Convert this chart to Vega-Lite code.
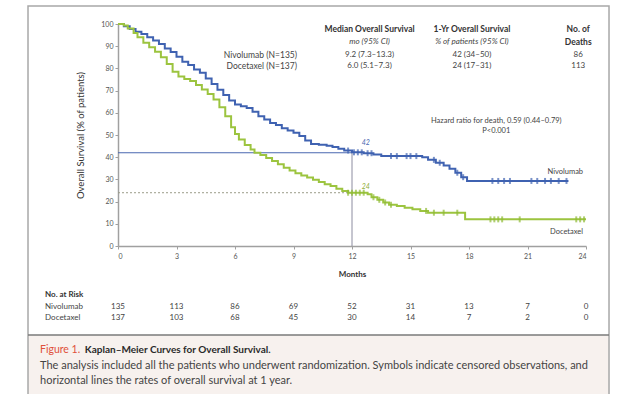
{
  "$schema": "https://vega.github.io/schema/vega-lite/v6.json",
  "width": 468,
  "height": 222,
  "autosize": {"type": "none"},
  "padding": {"left": 118, "top": 24, "right": 35, "bottom": 148},
  "background": "#ffffff",
  "config": {"view": {"stroke": null}, "font": "Lato", "axis": {"labelOverlap": false}},
  "data": {"values": [{"k": 1}]},
  "datasets": {
    "nivo": [
      {"t":0,"s":100},{"t":0.3,"s":99},{"t":0.6,"s":97.8},{"t":0.9,"s":96.5},{"t":1.2,"s":95.5},{"t":1.5,"s":94},{"t":1.8,"s":92.6},{"t":2.1,"s":91},{"t":2.4,"s":89},{"t":2.7,"s":87.4},{"t":3.0,"s":85.2},{"t":3.3,"s":83},{"t":3.6,"s":81.5},{"t":3.9,"s":79.5},{"t":4.2,"s":78},{"t":4.5,"s":75.5},{"t":4.8,"s":73},{"t":5.1,"s":70.4},{"t":5.4,"s":68},{"t":5.7,"s":65.5},{"t":6.0,"s":63.7},{"t":6.3,"s":63},{"t":6.6,"s":62.2},{"t":6.9,"s":60.5},{"t":7.2,"s":58.5},{"t":7.5,"s":57},{"t":7.8,"s":55.4},{"t":8.1,"s":54.5},{"t":8.4,"s":53},{"t":8.7,"s":52},{"t":9.0,"s":51},{"t":9.3,"s":49.6},{"t":9.6,"s":47.5},{"t":9.9,"s":46},{"t":10.3,"s":45.6},{"t":10.7,"s":45.2},{"t":11.0,"s":44.6},{"t":11.3,"s":43.8},{"t":11.6,"s":43},{"t":12.0,"s":42.2},{"t":12.6,"s":41.8},{"t":13.1,"s":41.2},{"t":13.5,"s":40.5},{"t":15.6,"s":40},{"t":15.9,"s":38.8},{"t":16.3,"s":37.5},{"t":16.7,"s":36.3},{"t":17.0,"s":34.8},{"t":17.3,"s":33},{"t":17.6,"s":31},{"t":17.9,"s":29.3},{"t":23.1,"s":29.3}
    ],
    "doce": [
      {"t":0,"s":100},{"t":0.3,"s":99.3},{"t":0.5,"s":98},{"t":0.8,"s":96},{"t":1.0,"s":94},{"t":1.3,"s":91.5},{"t":1.6,"s":89.5},{"t":1.9,"s":87.5},{"t":2.2,"s":85},{"t":2.5,"s":82},{"t":2.8,"s":78.5},{"t":3.1,"s":76.3},{"t":3.4,"s":75.2},{"t":3.7,"s":74.3},{"t":4.0,"s":72.5},{"t":4.3,"s":70.5},{"t":4.6,"s":68.5},{"t":4.9,"s":66},{"t":5.2,"s":62.5},{"t":5.5,"s":58.5},{"t":5.8,"s":53.5},{"t":6.0,"s":50.4},{"t":6.2,"s":48},{"t":6.5,"s":45.5},{"t":6.8,"s":43.5},{"t":7.0,"s":42},{"t":7.3,"s":41},{"t":7.6,"s":39.6},{"t":7.9,"s":38.3},{"t":8.2,"s":36.8},{"t":8.5,"s":35.3},{"t":8.8,"s":34},{"t":9.1,"s":32.8},{"t":9.4,"s":31.8},{"t":9.7,"s":30.8},{"t":10.0,"s":29.8},{"t":10.3,"s":28.8},{"t":10.6,"s":27.8},{"t":10.9,"s":27},{"t":11.2,"s":25.8},{"t":11.5,"s":24.8},{"t":11.8,"s":24},{"t":12.8,"s":23.3},{"t":13.0,"s":22},{"t":13.3,"s":20.8},{"t":13.6,"s":19.6},{"t":13.9,"s":18.6},{"t":14.3,"s":18},{"t":14.7,"s":17.2},{"t":15.1,"s":16.5},{"t":15.5,"s":15.8},{"t":15.9,"s":15},{"t":17.7,"s":15},{"t":17.8,"s":12},{"t":24,"s":12}
    ],
    "nivoCens": [
      {"t":11.8,"s":43},{"t":12.1,"s":42.2},{"t":12.3,"s":42.2},{"t":12.5,"s":42.2},{"t":12.8,"s":41.8},{"t":13.0,"s":41.8},{"t":14.0,"s":40.5},{"t":14.3,"s":40.5},{"t":14.8,"s":40.5},{"t":15.0,"s":40.5},{"t":15.3,"s":40.5},{"t":16.2,"s":38.8},{"t":16.5,"s":37.5},{"t":17.4,"s":33},{"t":17.7,"s":31},{"t":19.2,"s":29.3},{"t":19.5,"s":29.3},{"t":19.8,"s":29.3},{"t":20.1,"s":29.3},{"t":21.2,"s":29.3},{"t":21.5,"s":29.3},{"t":21.9,"s":29.3},{"t":22.2,"s":29.3},{"t":22.6,"s":29.3},{"t":23.0,"s":29.3}
    ],
    "doceCens": [
      {"t":11.8,"s":24},{"t":12.0,"s":24},{"t":12.2,"s":24},{"t":12.4,"s":24},{"t":12.6,"s":24},{"t":13.1,"s":22},{"t":13.4,"s":20.8},{"t":13.7,"s":19.6},{"t":14.0,"s":18.6},{"t":15.8,"s":15.8},{"t":16.2,"s":15},{"t":16.7,"s":15},{"t":17.4,"s":15},{"t":19.1,"s":12},{"t":19.3,"s":12},{"t":19.5,"s":12},{"t":19.7,"s":12},{"t":20.6,"s":12},{"t":23.5,"s":12},{"t":23.7,"s":12},{"t":23.9,"s":12}
    ],
    "riskNivo": [
      {"month":0,"n":"135"},{"month":3,"n":"113"},{"month":6,"n":"86"},{"month":9,"n":"69"},{"month":12,"n":"52"},{"month":15,"n":"31"},{"month":18,"n":"13"},{"month":21,"n":"7"},{"month":24,"n":"0"}
    ],
    "riskDoce": [
      {"month":0,"n":"137"},{"month":3,"n":"103"},{"month":6,"n":"68"},{"month":9,"n":"45"},{"month":12,"n":"30"},{"month":15,"n":"14"},{"month":18,"n":"7"},{"month":21,"n":"2"},{"month":24,"n":"0"}
    ]
  },
  "layer": [
    {
      "mark": {"type": "rect", "color": "#f7f1ee"},
      "encoding": {
        "x": {
          "datum": -4.615, "type": "quantitative",
          "scale": {"domain": [0, 24], "nice": false, "zero": false},
          "axis": {
            "title": "Months", "values": [0,3,6,9,12,15,18,21,24], "grid": false, "labelOverlap": false,
            "domainColor": "#a0a0a0", "domainWidth": 1.5, "tickColor": "#a0a0a0", "tickSize": 3,
            "labelFontSize": 7, "labelColor": "#555", "labelPadding": 3,
            "titleFontSize": 8, "titleFontWeight": "bold", "titleColor": "#333", "titlePadding": 11
          }
        },
        "x2": {"datum": 25.18},
        "y": {
          "datum": -40.1, "type": "quantitative",
          "scale": {"domain": [0, 100], "nice": false, "zero": false},
          "axis": {
            "title": "Overall Survival (% of patients)", "values": [0,10,20,30,40,50,60,70,80,90,100], "tickCount": 11, "grid": false, "labelOverlap": false,
            "domainColor": "#a0a0a0", "domainWidth": 1.5, "tickColor": "#a0a0a0", "tickSize": 3,
            "labelFontSize": 7, "labelColor": "#555", "labelPadding": 2,
            "titleFontSize": 9.5, "titleFontWeight": "normal", "titleColor": "#333", "titlePadding": 15
          }
        },
        "y2": {"datum": -72}
      }
    },
    {
      "mark": {"type": "rect", "fillOpacity": 0, "stroke": "#a8a8a8", "strokeWidth": 1.5},
      "encoding": {
        "x": {"datum": -4.615, "type": "quantitative"},
        "x2": {"datum": 25.18},
        "y": {"datum": 108.1, "type": "quantitative"},
        "y2": {"datum": -72}
      }
    },
    {
      "mark": {"type": "rule", "color": "#7a7a7a", "strokeWidth": 1.5},
      "encoding": {
        "x": {"datum": -4.615, "type": "quantitative"},
        "x2": {"datum": 25.18},
        "y": {"datum": -40.1, "type": "quantitative"}
      }
    },
    {
      "mark": {"type": "rule", "color": "#4a67b0", "strokeWidth": 1.2},
      "encoding": {
        "x": {"datum": 0, "type": "quantitative"},
        "x2": {"datum": 12},
        "y": {"datum": 42, "type": "quantitative"}
      }
    },
    {
      "mark": {"type": "rule", "color": "#9a9c88", "strokeWidth": 1, "strokeDash": [2, 2]},
      "encoding": {
        "x": {"datum": 0, "type": "quantitative"},
        "x2": {"datum": 12},
        "y": {"datum": 24, "type": "quantitative"}
      }
    },
    {
      "mark": {"type": "rule", "color": "#8c8ca0", "strokeWidth": 1},
      "encoding": {
        "x": {"datum": 12, "type": "quantitative"},
        "y": {"datum": 0, "type": "quantitative"},
        "y2": {"datum": 42}
      }
    },
    {
      "data": {"name": "nivo"},
      "mark": {"type": "line", "interpolate": "step-after", "color": "#3f62b1", "strokeWidth": 2},
      "encoding": {
        "x": {"field": "t", "type": "quantitative"},
        "y": {"field": "s", "type": "quantitative"}
      }
    },
    {
      "data": {"name": "doce"},
      "mark": {"type": "line", "interpolate": "step-after", "color": "#9cc43f", "strokeWidth": 2},
      "encoding": {
        "x": {"field": "t", "type": "quantitative"},
        "y": {"field": "s", "type": "quantitative"}
      }
    },
    {
      "data": {"name": "nivoCens"},
      "mark": {"type": "tick", "orient": "vertical", "color": "#3f62b1", "size": 6, "thickness": 2},
      "encoding": {
        "x": {"field": "t", "type": "quantitative"},
        "y": {"field": "s", "type": "quantitative"}
      }
    },
    {
      "data": {"name": "doceCens"},
      "mark": {"type": "tick", "orient": "vertical", "color": "#8fba35", "size": 6, "thickness": 2},
      "encoding": {
        "x": {"field": "t", "type": "quantitative"},
        "y": {"field": "s", "type": "quantitative"}
      }
    },
    {
      "mark": {"type": "text", "text": "Median Overall Survival", "fontSize": 8.5, "fontWeight": "bold", "color": "#333", "align": "center"},
      "encoding": {"x": {"datum": 12.9, "type": "quantitative"}, "y": {"datum": 97.7, "type": "quantitative"}}
    },
    {
      "mark": {"type": "text", "text": "1-Yr Overall Survival", "fontSize": 8.5, "fontWeight": "bold", "color": "#333", "align": "center"},
      "encoding": {"x": {"datum": 18.15, "type": "quantitative"}, "y": {"datum": 97.7, "type": "quantitative"}}
    },
    {
      "mark": {"type": "text", "text": "No. of", "fontSize": 8.5, "fontWeight": "bold", "color": "#333", "align": "center"},
      "encoding": {"x": {"datum": 23.6, "type": "quantitative"}, "y": {"datum": 97.7, "type": "quantitative"}}
    },
    {
      "mark": {"type": "text", "text": "Deaths", "fontSize": 8.5, "fontWeight": "bold", "color": "#333", "align": "center"},
      "encoding": {"x": {"datum": 23.6, "type": "quantitative"}, "y": {"datum": 91.9, "type": "quantitative"}}
    },
    {
      "mark": {"type": "text", "text": "mo (95% CI)", "fontSize": 8, "fontStyle": "italic", "color": "#444", "align": "center"},
      "encoding": {"x": {"datum": 12.9, "type": "quantitative"}, "y": {"datum": 91.9, "type": "quantitative"}}
    },
    {
      "mark": {"type": "text", "text": "% of patients (95% CI)", "fontSize": 8, "fontStyle": "italic", "color": "#444", "align": "center"},
      "encoding": {"x": {"datum": 18.15, "type": "quantitative"}, "y": {"datum": 91.9, "type": "quantitative"}}
    },
    {
      "mark": {"type": "text", "text": "Nivolumab (N=135)", "fontSize": 8.5, "color": "#444", "align": "right"},
      "encoding": {"x": {"datum": 9.18, "type": "quantitative"}, "y": {"datum": 86, "type": "quantitative"}}
    },
    {
      "mark": {"type": "text", "text": "Docetaxel (N=137)", "fontSize": 8.5, "color": "#444", "align": "right"},
      "encoding": {"x": {"datum": 9.18, "type": "quantitative"}, "y": {"datum": 81.1, "type": "quantitative"}}
    },
    {
      "mark": {"type": "text", "text": "9.2 (7.3–13.3)", "fontSize": 8, "color": "#444", "align": "center"},
      "encoding": {"x": {"datum": 12.9, "type": "quantitative"}, "y": {"datum": 86, "type": "quantitative"}}
    },
    {
      "mark": {"type": "text", "text": "6.0 (5.1–7.3)", "fontSize": 8, "color": "#444", "align": "center"},
      "encoding": {"x": {"datum": 12.9, "type": "quantitative"}, "y": {"datum": 81.1, "type": "quantitative"}}
    },
    {
      "mark": {"type": "text", "text": "42 (34–50)", "fontSize": 8, "color": "#444", "align": "center"},
      "encoding": {"x": {"datum": 18.15, "type": "quantitative"}, "y": {"datum": 86, "type": "quantitative"}}
    },
    {
      "mark": {"type": "text", "text": "24 (17–31)", "fontSize": 8, "color": "#444", "align": "center"},
      "encoding": {"x": {"datum": 18.15, "type": "quantitative"}, "y": {"datum": 81.1, "type": "quantitative"}}
    },
    {
      "mark": {"type": "text", "text": "86", "fontSize": 8, "color": "#444", "align": "center"},
      "encoding": {"x": {"datum": 23.6, "type": "quantitative"}, "y": {"datum": 86, "type": "quantitative"}}
    },
    {
      "mark": {"type": "text", "text": "113", "fontSize": 8, "color": "#444", "align": "center"},
      "encoding": {"x": {"datum": 23.6, "type": "quantitative"}, "y": {"datum": 81.1, "type": "quantitative"}}
    },
    {
      "mark": {"type": "text", "text": "Hazard ratio for death, 0.59 (0.44–0.79)", "fontSize": 7.5, "color": "#444", "align": "center"},
      "encoding": {"x": {"datum": 19.4, "type": "quantitative"}, "y": {"datum": 56.3, "type": "quantitative"}}
    },
    {
      "mark": {"type": "text", "text": "P<0.001", "fontSize": 7.5, "color": "#444", "align": "center"},
      "encoding": {"x": {"datum": 19.4, "type": "quantitative"}, "y": {"datum": 51.8, "type": "quantitative"}}
    },
    {
      "mark": {"type": "text", "text": "42", "fontSize": 7, "fontStyle": "italic", "color": "#4a67b0", "align": "left"},
      "encoding": {"x": {"datum": 12.5, "type": "quantitative"}, "y": {"datum": 46.4, "type": "quantitative"}}
    },
    {
      "mark": {"type": "text", "text": "24", "fontSize": 7, "fontStyle": "italic", "color": "#8fae3a", "align": "left"},
      "encoding": {"x": {"datum": 12.5, "type": "quantitative"}, "y": {"datum": 26.6, "type": "quantitative"}}
    },
    {
      "mark": {"type": "text", "text": "Nivolumab", "fontSize": 7.5, "color": "#444", "align": "right"},
      "encoding": {"x": {"datum": 23.85, "type": "quantitative"}, "y": {"datum": 33.3, "type": "quantitative"}}
    },
    {
      "mark": {"type": "text", "text": "Docetaxel", "fontSize": 7.5, "color": "#444", "align": "right"},
      "encoding": {"x": {"datum": 23.85, "type": "quantitative"}, "y": {"datum": 6.3, "type": "quantitative"}}
    },
    {
      "mark": {"type": "text", "text": "No. at Risk", "fontSize": 8, "fontWeight": "bold", "color": "#333", "align": "left"},
      "encoding": {"x": {"datum": -3.74, "type": "quantitative"}, "y": {"datum": -22.1, "type": "quantitative"}}
    },
    {
      "mark": {"type": "text", "text": "Nivolumab", "fontSize": 8, "color": "#444", "align": "left"},
      "encoding": {"x": {"datum": -3.74, "type": "quantitative"}, "y": {"datum": -27.5, "type": "quantitative"}}
    },
    {
      "mark": {"type": "text", "text": "Docetaxel", "fontSize": 8, "color": "#444", "align": "left"},
      "encoding": {"x": {"datum": -3.74, "type": "quantitative"}, "y": {"datum": -32.4, "type": "quantitative"}}
    },
    {
      "data": {"name": "riskNivo"},
      "mark": {"type": "text", "fontSize": 8, "color": "#444", "align": "center"},
      "encoding": {"x": {"field": "month", "type": "quantitative"}, "y": {"datum": -27.5, "type": "quantitative"}, "text": {"field": "n"}}
    },
    {
      "data": {"name": "riskDoce"},
      "mark": {"type": "text", "fontSize": 8, "color": "#444", "align": "center"},
      "encoding": {"x": {"field": "month", "type": "quantitative"}, "y": {"datum": -32.4, "type": "quantitative"}, "text": {"field": "n"}}
    },
    {
      "mark": {"type": "text", "text": "Figure 1.", "fontSize": 10.5, "color": "#e0503a", "align": "left"},
      "encoding": {"x": {"datum": -4.0, "type": "quantitative"}, "y": {"datum": -46.8, "type": "quantitative"}}
    },
    {
      "mark": {"type": "text", "text": "Kaplan–Meier Curves for Overall Survival.", "fontSize": 10, "fontWeight": "bold", "color": "#2a2a2a", "align": "left"},
      "encoding": {"x": {"datum": -1.7, "type": "quantitative"}, "y": {"datum": -46.8, "type": "quantitative"}}
    },
    {
      "mark": {"type": "text", "text": "The analysis included all the patients who underwent randomization. Symbols indicate censored observations, and", "fontSize": 11, "color": "#444", "align": "left"},
      "encoding": {"x": {"datum": -4.0, "type": "quantitative"}, "y": {"datum": -54.1, "type": "quantitative"}}
    },
    {
      "mark": {"type": "text", "text": "horizontal lines the rates of overall survival at 1 year.", "fontSize": 11, "color": "#444", "align": "left"},
      "encoding": {"x": {"datum": -4.0, "type": "quantitative"}, "y": {"datum": -60.8, "type": "quantitative"}}
    }
  ]
}
